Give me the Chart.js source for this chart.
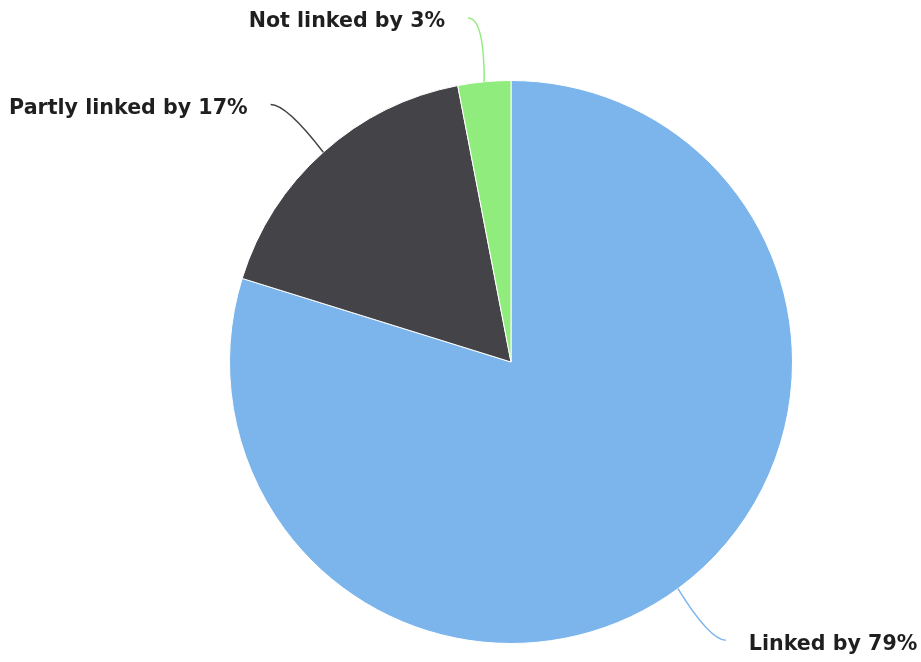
<!DOCTYPE html>
<html>
<head>
<meta charset="utf-8">
<title>Linking status</title>
<script src="https://cdn.jsdelivr.net/npm/chart.js@4/dist/chart.umd.min.js"></script>
<style>
  html, body { margin: 0; padding: 0; background: #ffffff; }
  #chart { display: block; }
</style>
</head>
<body>
<canvas id="chart" width="921" height="662"></canvas>
<script>
// Share of records by linking status (percent)
const categories = ['Linked', 'Partly linked', 'Not linked'];
const shares = [79, 17, 3];
const sliceColors = ['#7cb5ec', '#434348', '#90ed7d'];

const LABEL_FONT = 'bold 20.6px "DejaVu Sans", sans-serif';
const LABEL_DISTANCE = 64;   // from pie edge to the connector's outer end
const LABEL_SHIFT = 10;      // extra horizontal push away from the pie
const LABEL_GAP = 23;        // from connector's outer end to the text
const CONNECTOR_BEND = 16;   // length of the flat part of the connector

// Outside labels with curved connector lines, one per slice
const outsideLabels = {
  id: 'outsideLabels',
  afterDatasetsDraw(chart) {
    const ctx = chart.ctx;
    const meta = chart.getDatasetMeta(0);
    ctx.save();
    meta.data.forEach((arc, i) => {
      const { x, y, startAngle, endAngle, outerRadius } = arc.getProps(
        ['x', 'y', 'startAngle', 'endAngle', 'outerRadius'], true);
      const mid = (startAngle + endAngle) / 2;
      const dx = Math.cos(mid), dy = Math.sin(mid);
      const side = dx < 0 ? -1 : 1;
      const ex = x + outerRadius * dx, ey = y + outerRadius * dy;
      const ax = x + (outerRadius + LABEL_DISTANCE) * dx + side * LABEL_SHIFT;
      const ay = y + (outerRadius + LABEL_DISTANCE) * dy;

      ctx.beginPath();
      ctx.moveTo(ax, ay);
      ctx.quadraticCurveTo(ax - side * CONNECTOR_BEND, ay, ex, ey);
      ctx.strokeStyle = sliceColors[i];
      ctx.lineWidth = 1.5;
      ctx.stroke();

      ctx.font = LABEL_FONT;
      ctx.fillStyle = '#1f1f1f';
      ctx.textBaseline = 'middle';
      ctx.textAlign = side < 0 ? 'right' : 'left';
      const text = categories[i] + ' by ' + shares[i] + '%';
      ctx.fillText(text, ax + side * LABEL_GAP, ay + 4);
    });
    ctx.restore();
  }
};

new Chart(document.getElementById('chart'), {
  type: 'pie',
  data: {
    labels: categories,
    datasets: [{
      data: shares,
      backgroundColor: sliceColors,
      borderColor: '#ffffff',
      borderWidth: 1
    }]
  },
  options: {
    responsive: false,
    animation: false,
    layout: { padding: { left: 229, right: 128, top: 80, bottom: 18 } },
    plugins: {
      legend: { display: false },
      tooltip: { enabled: false }
    }
  },
  plugins: [outsideLabels]
});
</script>
</body>
</html>
